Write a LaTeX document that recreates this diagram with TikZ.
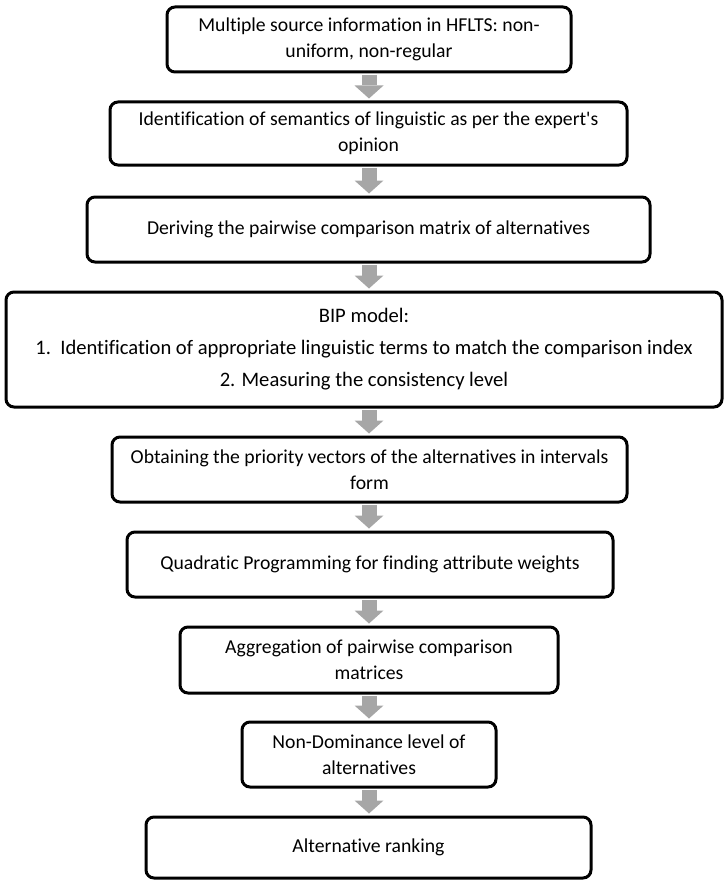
\documentclass[tikz,border=0pt]{standalone}
\usepackage{fontspec}
\setmainfont{Carlito}[Ligatures=NoCommon]
\usetikzlibrary{arrows.meta}
\definecolor{arrowgray}{RGB}{166,166,166}
\begin{document}
\begin{tikzpicture}[x=1pt,y=-1pt,
  stepbox/.style={draw=black, line width=3pt, rounded corners=8pt, align=center,
    font=\fontsize{19.7}{26}\selectfont, inner sep=0pt, fill=white},
  flow/.style={draw=arrowgray, line width=15pt,
    -{Triangle[width=29pt,length=13pt,line width=0pt]},
    shorten <=1.5pt, shorten >=2pt}]
\useasboundingbox (0,0) rectangle (724,880);
\node[stepbox, minimum width=404pt, minimum height=65pt] (b1) at (369,39.5)
  {\raisebox{-3pt}{\parbox{400pt}{\centering Multiple source information in HFLTS: non-\\uniform, non-regular}}};
\node[stepbox, minimum width=517pt, minimum height=63pt] (b2) at (368.5,133.5)
  {Identification of semantics of linguistic as per the expert\textquotesingle s\\opinion};
\node[stepbox, minimum width=563pt, minimum height=65pt] (b3) at (368.5,229.5)
  {Deriving the pairwise comparison matrix of alternatives};
\node[stepbox, minimum width=716pt, minimum height=115pt, font=\fontsize{20.6}{32}\selectfont] (b4) at (364,349.5)
  {BIP model:\\1.\ \ Identification of appropriate linguistic terms to match the comparison index\\2. Measuring the consistency level};
\node[stepbox, minimum width=515pt, minimum height=65pt] (b5) at (369.5,469.5)
  {Obtaining the priority vectors of the alternatives in intervals\\form};
\node[stepbox, minimum width=486pt, minimum height=65pt] (b6) at (370,564.5)
  {Quadratic Programming for finding attribute weights};
\node[stepbox, minimum width=378pt, minimum height=66pt] (b7) at (369,660)
  {Aggregation of pairwise comparison\\matrices};
\node[stepbox, minimum width=254pt, minimum height=65pt] (b8) at (369,754.5)
  {Non-Dominance level of\\alternatives};
\node[stepbox, minimum width=445pt, minimum height=61pt] (b9) at (368.5,847.5)
  {Alternative ranking};
\foreach \a/\b in {b1/b2,b2/b3,b3/b4,b4/b5,b5/b6,b6/b7,b7/b8,b8/b9}
  \draw[flow] (\a.south -| 369,0) -- (369,0 |- \b.north);
\end{tikzpicture}
\end{document}
